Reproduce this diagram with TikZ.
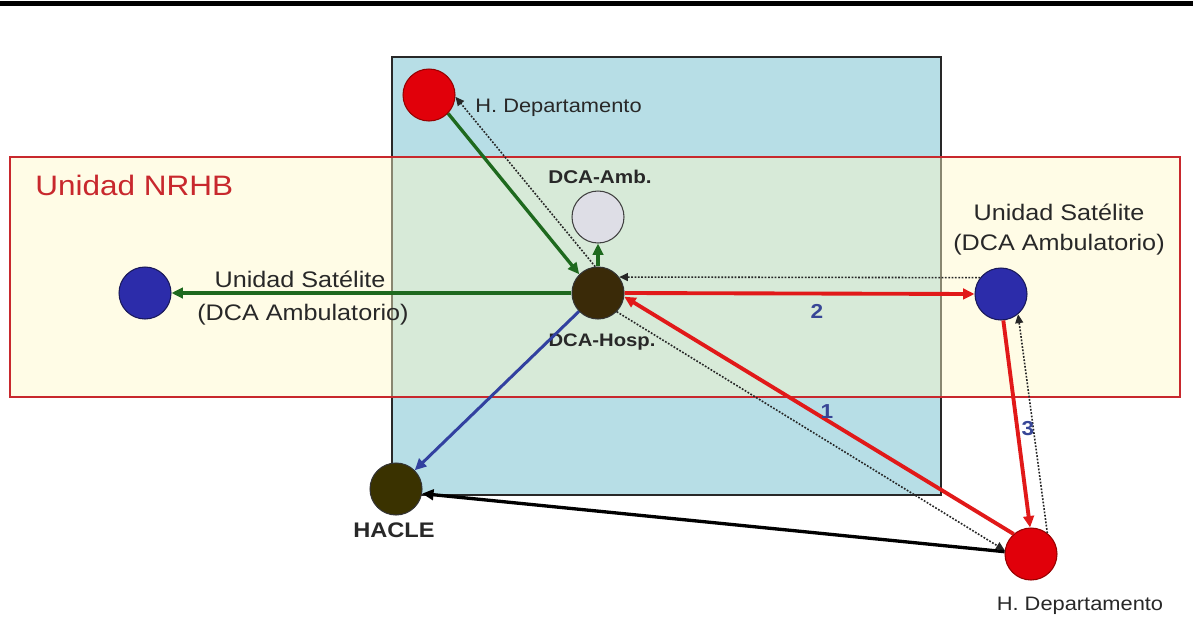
\documentclass[tikz,border=0pt]{standalone}
\usepackage{fontspec}
\setmainfont{Liberation Sans}
\usepackage{graphicx}
\usetikzlibrary{arrows.meta}
\definecolor{bluebg}{RGB}{183,222,230}
\definecolor{yellowbg}{RGB}{255,250,200}
\definecolor{nrhbred}{RGB}{200,40,45}
\definecolor{rectborder}{RGB}{40,40,40}
\definecolor{cred}{RGB}{225,0,10}
\definecolor{credb}{RGB}{150,0,0}
\definecolor{cblue}{RGB}{44,44,170}
\definecolor{cblueb}{RGB}{25,25,90}
\definecolor{chosp}{RGB}{58,42,8}
\definecolor{chacle}{RGB}{58,50,0}
\definecolor{camb}{RGB}{222,222,230}
\definecolor{agreen}{RGB}{30,105,30}
\definecolor{ared}{RGB}{225,25,25}
\definecolor{ablue}{RGB}{50,65,160}
\definecolor{textgrey}{RGB}{40,40,40}
\definecolor{numblue}{RGB}{55,70,150}
\newcommand{\wx}[1]{\scalebox{1.12}[1]{#1}}
\begin{document}
\begin{tikzpicture}[x=0.02cm,y=-0.02cm,
  dot/.style={circle,minimum size=1.04cm,inner sep=0pt,line width=0.6pt},
  redc/.style={dot,fill=cred,draw=credb},
  bluec/.style={dot,fill=cblue,draw=cblueb},
  hospc/.style={dot,fill=chosp,draw=black!80},
  haclec/.style={dot,fill=chacle,draw=black!80},
  ambc/.style={dot,fill=camb,draw=black!75},
  lbl/.style={inner sep=0pt,text=textgrey},
  num/.style={inner sep=0pt,text=numblue,font=\fontsize{11.5}{13}\selectfont\bfseries},
  tip/.style={-{Triangle[length=6.5pt,width=6pt]}},
  garrow/.style={tip,draw=agreen,line width=1.9pt},
  rarrow/.style={tip,draw=ared,line width=2.2pt},
  barrow/.style={tip,draw=ablue,line width=1.7pt},
  karrow/.style={tip,draw=black,line width=1.9pt},
  darrow/.style={-{Triangle[length=5pt,width=4.5pt]},draw=black!85,line width=0.9pt,dash pattern=on 1pt off 0.9pt}
]
\useasboundingbox (0,0) rectangle (1193,622);
\fill[white] (0,0) rectangle (1193,622);
\draw[line width=2.3pt] (0,3.5) -- (1193,3.5);
% background regions
\draw[fill=bluebg,draw=rectborder,line width=0.7pt] (392,57) rectangle (941,495);
\fill[yellowbg,fill opacity=0.45] (10,157) rectangle (1180,397);
\draw[nrhbred,line width=0.8pt] (10,157) rectangle (1180,397);
% nodes
\node[redc] (tr) at (429,95) {};
\node[ambc] (amb) at (598,217) {};
\node[hospc] (hosp) at (598,293) {};
\node[bluec] (lb) at (145,293) {};
\node[bluec] (rb) at (1001,294) {};
\node[haclec] (hacle) at (396,489) {};
\node[redc] (br) at (1031,554) {};
% labels
\node[lbl,text=nrhbred,font=\fontsize{16}{19}\selectfont,anchor=base west] (tnrhb) at (35,195) {\wx{Unidad NRHB}};
\node[lbl,font=\fontsize{11.1}{13}\selectfont,anchor=base west] (ttr) at (475,112) {\wx{H. Departamento}};
\node[lbl,font=\fontsize{11.1}{13}\selectfont,anchor=base] (tbr) at (1080,610) {\wx{H. Departamento}};
\node[lbl,font=\fontsize{12.8}{15}\selectfont,anchor=base] (tlb1) at (300,287) {\wx{Unidad Satélite}};
\node[lbl,font=\fontsize{12.8}{15}\selectfont,anchor=base] (tlb2) at (303,320) {\wx{(DCA Ambulatorio)}};
\node[lbl,font=\fontsize{12.8}{15}\selectfont,anchor=base] (trb1) at (1059,220) {\wx{Unidad Satélite}};
\node[lbl,font=\fontsize{12.8}{15}\selectfont,anchor=base] (trb2) at (1059,250) {\wx{(DCA Ambulatorio)}};
\node[lbl,font=\fontsize{10.5}{12}\selectfont\bfseries,anchor=base] (tamb) at (600,183) {\wx{DCA-Amb.}};
\node[lbl,font=\fontsize{10.3}{12}\selectfont\bfseries,anchor=base] (thosp) at (602,346) {\wx{DCA-Hosp.}};
\node[lbl,font=\fontsize{12}{14}\selectfont\bfseries,anchor=base] (thacle) at (394,537) {\wx{HACLE}};
% connectors
\draw[garrow] (tr.-44) -- (hosp.135);
\draw[darrow] (hosp.96) -- (tr.-4);
\draw[garrow] (hosp.90) -- (amb.-90);
\draw[garrow] (hosp.180) -- (lb.0);
\draw[darrow] (rb.142) -- (hosp.37);
\draw[rarrow] (hosp.0) -- (rb.180);
\draw[rarrow] (br.131) -- (hosp.-8);
\draw[darrow] (hosp.-45) -- (br.172);
\draw[rarrow] (rb.-85) -- (br.92);
\draw[darrow] (br.52) -- (rb.-50);
\draw[barrow] (hosp.-136) -- (hacle.45);
\draw[karrow] (br.175) -- (hacle.-10);
% numbers
\node[num] (n2) at (817,311) {\wx{2}};
\node[num] (n1) at (827,412) {\wx{1}};
\node[num] (n3) at (1028,429) {\wx{3}};
\end{tikzpicture}
\end{document}
